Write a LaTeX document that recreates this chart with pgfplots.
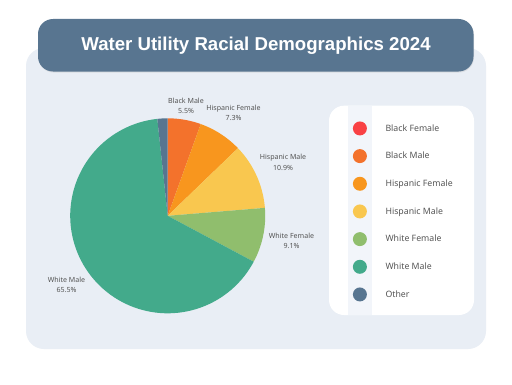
\documentclass[border=0pt]{standalone}
\usepackage{pgfplots}
\pgfplotsset{compat=1.18}
\usepackage{fontspec}
\setmainfont{Liberation Sans}
\newfontfamily\lblfont{Noto Sans}
\definecolor{cBF}{HTML}{F94144}
\definecolor{cBM}{HTML}{F3722C}
\definecolor{cHF}{HTML}{F8961E}
\definecolor{cHM}{HTML}{F9C74F}
\definecolor{cWF}{HTML}{90BE6D}
\definecolor{cWM}{HTML}{43AA8B}
\definecolor{cOT}{HTML}{577590}
\definecolor{panel}{HTML}{E9EEF5}
\definecolor{titlebg}{HTML}{587590}
\definecolor{stripe}{HTML}{F2F5FA}
\definecolor{txt}{HTML}{555555}
\begin{document}
\begin{tikzpicture}[x=1bp,y=1bp]
\fill[white] (0,0) rectangle (512,384);
\fill[panel, rounded corners=18bp] (26,35) rectangle (486,336);
\fill[black!25, opacity=0.35, rounded corners=15bp] (38.5,311.5) rectangle (474,364.5);
\fill[titlebg, rounded corners=15bp] (38,312.5) rectangle (473.5,365);
\node[white, font=\bfseries\fontsize{18.7}{22}\selectfont] at (256,338.5) {Water Utility Racial Demographics 2024};
\fill[white, rounded corners=15bp] (329,69) rectangle (474,278.3);
\fill[stripe] (347.5,69) rectangle (371.7,278.3);
\begin{axis}[at={(72,72.5)}, anchor=south west, scale only axis,
  width=195bp, height=195bp, hide axis,
  xmin=-1, xmax=1, ymin=-1, ymax=1, clip=false,
  legend image code/.code={\fill[#1] (0bp,0bp) circle (7bp);},
  legend cell align=left,
  legend style={at={(axis description cs:1.4487,0.985)}, anchor=north west,
    draw=none, fill=none, inner sep=0pt, row sep=13.67bp,
    nodes={inner sep=0pt},
    font=\lblfont\fontsize{8.8}{10}\selectfont, text=txt,
    /tikz/every odd column/.append style={column sep=18.6bp}},
]
\xdef\cum{0}
\foreach \v/\c in {5.5/cBM,7.3/cHF,10.9/cHM,9.1/cWF,65.5/cWM,1.7/cOT}{
  \pgfmathsetmacro\a{90-3.6*\cum}
  \pgfmathsetmacro\n{\cum+\v}
  \pgfmathsetmacro\b{90-3.6*\n}
  \edef\temp{\noexpand\addplot[draw=none, fill=\c, domain=\b:\a, samples=90, forget plot] ({cos(x)},{sin(x)}) -- (axis cs:0,0) -- cycle;}
  \temp
  \xdef\cum{\n}
}
\addlegendimage{draw=none, fill=cBF}\addlegendentry{Black Female}
\addlegendimage{draw=none, fill=cBM}\addlegendentry{Black Male}
\addlegendimage{draw=none, fill=cHF}\addlegendentry{Hispanic Female}
\addlegendimage{draw=none, fill=cHM}\addlegendentry{Hispanic Male}
\addlegendimage{draw=none, fill=cWF}\addlegendentry{White Female}
\addlegendimage{draw=none, fill=cWM}\addlegendentry{White Male}
\addlegendimage{draw=none, fill=cOT}\addlegendentry{Other}
\end{axis}
\tikzset{lbl/.style={font=\lblfont\fontsize{7.1}{10.5}\selectfont, text=txt, align=center, inner sep=0pt}}
\node[lbl] at (186,278) {Black Male\\5.5\%};
\node[lbl] at (233.5,271) {Hispanic Female\\7.3\%};
\node[lbl] at (283,221.5) {Hispanic Male\\10.9\%};
\node[lbl] at (291.5,143) {White Female\\9.1\%};
\node[lbl] at (66.5,99) {White Male\\65.5\%};
\end{tikzpicture}
\end{document}
